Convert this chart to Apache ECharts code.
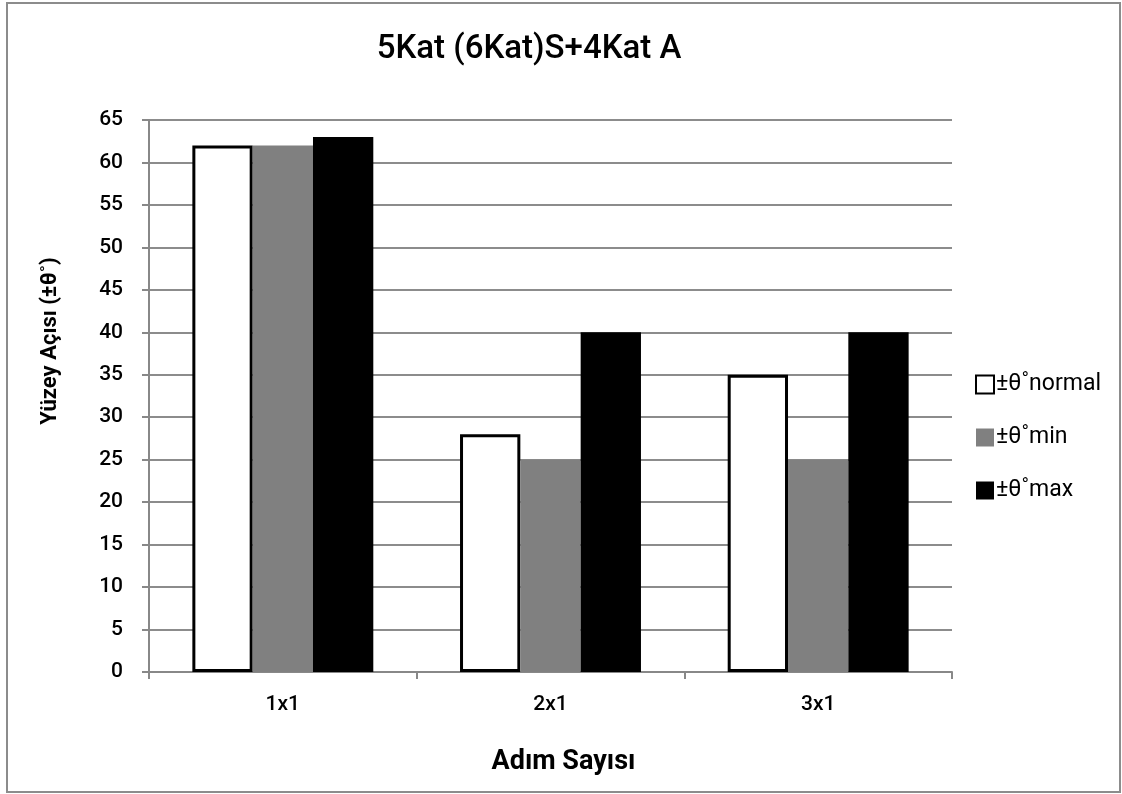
<!DOCTYPE html>
<html>
<head>
<meta charset="utf-8">
<script src="https://cdn.jsdelivr.net/npm/echarts@6/dist/echarts.min.js"></script>
<style>
  html, body { margin: 0; padding: 0; background: #fff; }
  #frame { position: absolute; left: 6px; top: 2px; width: 1115px; height: 791px; border: 2px solid #8c8c8c; box-sizing: border-box; }
  #chart { position: absolute; left: 0; top: 0; width: 1122px; height: 794px; }
</style>
</head>
<body>
<div id="frame"></div>
<div id="chart"></div>
<script>
// Step counts on the x axis
const categories = ['1x1', '2x1', '3x1'];
// Surface angle values (±θ°) for each series
const normalValues = [62, 28, 35];
const minValues = [62, 25, 25];
const maxValues = [63, 40, 40];
const seriesNames = ['±θ˚normal', '±θ˚min', '±θ˚max'];
const yTicks = { min: 0, max: 65, interval: 5 };

const FONT = 'Roboto, "Liberation Sans", Arial, sans-serif';

const chart = echarts.init(document.getElementById('chart'), null, { renderer: 'canvas' });

chart.setOption({
  backgroundColor: 'transparent',
  animation: false,
  title: {
    text: '5Kat (6Kat)S+4Kat A',
    left: 524,
    top: 28,
    textAlign: 'center',
    textStyle: { fontFamily: FONT, fontSize: 33, fontWeight: 500, color: '#000' }
  },
  grid: { left: 149, right: 170, top: 120, bottom: 122, containLabel: false },
  legend: {
    orient: 'vertical',
    left: 970,
    top: 368,
    itemWidth: 18,
    itemHeight: 18,
    itemGap: 30,
    icon: 'rect',
    textStyle: { fontFamily: FONT, fontSize: 23, color: '#000', padding: [0, 0, 0, -3] },
    data: seriesNames
  },
  xAxis: {
    type: 'category',
    data: categories,
    name: 'Adım Sayısı',
    nameLocation: 'middle',
    nameGap: 77,
    nameTextStyle: { fontFamily: FONT, fontSize: 27, fontWeight: 'bold', color: '#000', padding: [0, 0, 0, 26] },
    axisLine: { lineStyle: { color: '#888', width: 2 } },
    axisTick: { show: true, length: 7, lineStyle: { color: '#888', width: 2 } },
    axisLabel: { fontFamily: FONT, fontSize: 21, fontWeight: 500, color: '#000', margin: 22 }
  },
  yAxis: {
    type: 'value',
    min: yTicks.min,
    max: yTicks.max,
    interval: yTicks.interval,
    name: 'Yüzey Açısı (±θ˚)',
    nameLocation: 'middle',
    nameGap: 88,
    nameTextStyle: { fontFamily: FONT, fontSize: 22, fontWeight: 'bold', color: '#000', padding: [0, 0, 0, 110] },
    axisLine: { show: true, lineStyle: { color: '#888', width: 2 } },
    axisTick: { show: true, length: 7, lineStyle: { color: '#888', width: 2 } },
    axisLabel: { fontFamily: FONT, fontSize: 21, fontWeight: 500, color: '#000', margin: 26 },
    splitLine: { lineStyle: { color: '#8c8c8c', width: 2 } }
  },
  series: [
    {
      name: seriesNames[0],
      type: 'bar',
      data: normalValues,
      barGap: '0%',
      barCategoryGap: '32.4%',
      itemStyle: { color: '#fff', borderColor: '#000', borderWidth: 3 }
    },
    {
      name: seriesNames[1],
      type: 'bar',
      data: minValues,
      itemStyle: { color: '#808080' }
    },
    {
      name: seriesNames[2],
      type: 'bar',
      data: maxValues,
      itemStyle: { color: '#000' }
    }
  ]
});
</script>
</body>
</html>
